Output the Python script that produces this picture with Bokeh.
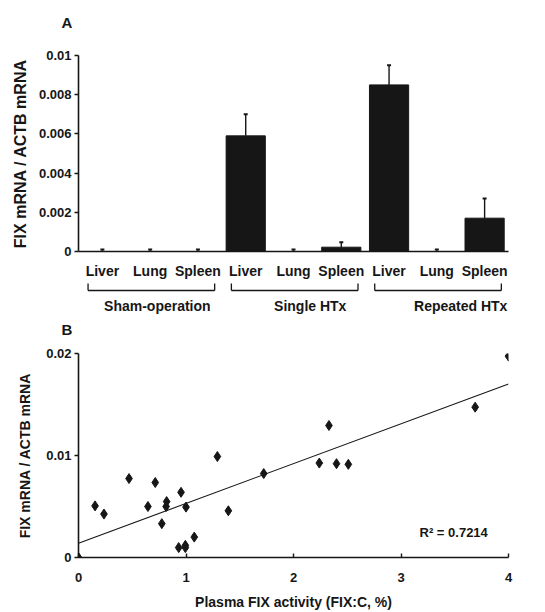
from bokeh.plotting import figure
from bokeh.models import FixedTicker, Range1d, Label
from bokeh.layouts import column
from bokeh.embed import file_html
from bokeh.resources import INLINE

FONT = "Liberation Sans"
INK = "#161616"

# ---------------- data: panel A ----------------
tissues = ["Liver", "Lung", "Spleen", "Liver", "Lung", "Spleen", "Liver", "Lung", "Spleen"]
groups = ["Sham-operation", "Single HTx", "Repeated HTx"]
mrna_mean = [0.0, 0.0, 0.0, 0.0059, 0.0, 0.00022, 0.0085, 0.0, 0.0017]
mrna_err = [0.0001, 0.0001, 0.0001, 0.0011, 0.0001, 0.00025, 0.001, 0.0001, 0.001]
y_ticks_a = [0, 0.002, 0.004, 0.006, 0.008, 0.01]
y_labels_a = ["0", "0.002", "0.004", "0.006", "0.008", "0.01"]

# ---------------- data: panel B ----------------
fix_activity = [0.0, 0.154, 0.237, 0.47, 0.646, 0.714, 0.775, 0.815, 0.82, 0.932, 0.954,
                0.994, 0.994, 1.0, 1.077, 1.292, 1.394, 1.723, 2.24, 2.33, 2.4, 2.51, 3.69, 4.0]
fix_mrna = [0.0, 0.00506, 0.00426, 0.00774, 0.0050, 0.00735, 0.00332, 0.0050, 0.00548, 0.00097,
            0.00639, 0.00119, 0.00097, 0.00494, 0.0020, 0.0099, 0.00458, 0.00823, 0.00926,
            0.01294, 0.0092, 0.00913, 0.01474, 0.01974]
trend_intercept = 0.0014
trend_slope = 0.0039
r_squared = "0.7214"
x_ticks_b = [0, 1, 2, 3, 4]
y_ticks_b = [0, 0.01, 0.02]
y_labels_b = ["0", "0.01", "0.02"]


def style_axis(ax, tick_size, tick_in, tick_out, standoff):
    ax.axis_line_color = INK
    ax.axis_line_width = 1.6
    ax.major_tick_line_color = INK
    ax.major_tick_line_width = 1.4
    ax.major_tick_in = tick_in
    ax.major_tick_out = tick_out
    ax.minor_tick_line_color = None
    ax.major_label_text_font = FONT
    ax.major_label_text_font_style = "bold"
    ax.major_label_text_font_size = tick_size
    ax.major_label_text_color = INK
    ax.major_label_standoff = standoff
    ax.axis_label_text_font = FONT
    ax.axis_label_text_font_style = "bold"
    ax.axis_label_text_color = INK


def clean(p):
    p.xgrid.visible = False
    p.ygrid.visible = False
    p.outline_line_color = None


def panel_letter(text, height, top):
    # a thin strip that only carries the panel letter as its title
    h = figure(width=545, height=height, output_backend="svg", toolbar_location=None,
               x_axis_type=None, y_axis_type=None,
               min_border_left=0, min_border_right=0, min_border_top=top, min_border_bottom=0)
    clean(h)
    h.title.text = text
    h.title.align = "left"
    h.title.offset = -17
    h.title.standoff = 0
    h.title.text_font = FONT
    h.title.text_font_style = "bold"
    h.title.text_font_size = "15px"
    h.title.text_color = INK
    return h


# ================= Panel A =================
head_a = panel_letter("A", 31, 30)

xpos = [i + 0.5 for i in range(len(tissues))]
xr_a = Range1d(0, 9)
p1 = figure(width=545, height=250, x_range=xr_a, y_range=Range1d(0, 0.01),
            output_backend="svg", toolbar_location=None,
            min_border_left=78, min_border_right=27, min_border_top=24, min_border_bottom=30)
clean(p1)

xa = p1.xaxis[0]
xa.ticker = FixedTicker(ticks=xpos)
xa.major_label_overrides = {x: t for x, t in zip(xpos, tissues)}
style_axis(xa, "14px", 0, 0, 11)

ya = p1.yaxis[0]
ya.ticker = FixedTicker(ticks=y_ticks_a)
ya.major_label_overrides = {v: t for v, t in zip(y_ticks_a, y_labels_a)}
style_axis(ya, "13px", 0, 4, 3)
ya.axis_label = "FIX mRNA / ACTB mRNA"
ya.axis_label_text_font_size = "16px"
ya.axis_label_standoff = 7

p1.vbar(x=xpos, top=mrna_mean, width=0.82, fill_color=INK, line_color=INK)
err_top = [m + e for m, e in zip(mrna_mean, mrna_err)]
p1.segment(x0=xpos, y0=mrna_mean, x1=xpos, y1=err_top, line_color=INK, line_width=1.4)
p1.scatter(x=xpos, y=err_top, marker="dash", size=4, line_color=INK, line_width=2)

# ---- group brackets + group names (strip sharing panel A's x range) ----
pg = figure(width=545, height=35, x_range=xr_a, y_range=Range1d(0, 1),
            output_backend="svg", toolbar_location=None, y_axis_type=None,
            min_border_left=78, min_border_right=27, min_border_top=0, min_border_bottom=24)
clean(pg)
group_centers = [1.65, 4.85, 8.0]
gx = pg.xaxis[0]
gx.ticker = FixedTicker(ticks=group_centers)
gx.major_label_overrides = {c: g for c, g in zip(group_centers, groups)}
style_axis(gx, "14px", 0, 0, 5)
gx.axis_line_color = None
gx.major_tick_line_color = None

br_start = [3 * g + 0.2 for g in range(len(groups))]
br_end = [3 * g + 2.85 for g in range(len(groups))]
br_low, br_high = 0.18, 0.82
pg.segment(x0=br_start, y0=[br_low] * 3, x1=br_end, y1=[br_low] * 3,
           line_color=INK, line_width=1.3)
pg.segment(x0=br_start, y0=[br_low] * 3, x1=br_start, y1=[br_high] * 3,
           line_color=INK, line_width=1.3)
pg.segment(x0=br_end, y0=[br_low] * 3, x1=br_end, y1=[br_high] * 3,
           line_color=INK, line_width=1.3)

# ================= Panel B =================
head_b = panel_letter("B", 22, 21)

p2 = figure(width=545, height=274, x_range=Range1d(0, 4), y_range=Range1d(0, 0.02),
            output_backend="svg", toolbar_location=None,
            min_border_left=75, min_border_right=37, min_border_top=15, min_border_bottom=55)
clean(p2)

xb = p2.xaxis[0]
xb.ticker = FixedTicker(ticks=x_ticks_b)
style_axis(xb, "13px", 4, 0, 15)
xb.axis_label = "Plasma FIX activity (FIX:C, %)"
xb.axis_label_text_font_size = "14px"
xb.axis_label_standoff = 9

yb = p2.yaxis[0]
yb.ticker = FixedTicker(ticks=y_ticks_b)
yb.major_label_overrides = {v: t for v, t in zip(y_ticks_b, y_labels_b)}
style_axis(yb, "13px", 0, 4, 3)
yb.axis_label = "FIX mRNA / ACTB mRNA"
yb.axis_label_text_font_size = "14px"
yb.axis_label_standoff = 10

trend_x = [min(x_ticks_b), max(x_ticks_b)]
trend_y = [trend_intercept + trend_slope * x for x in trend_x]
p2.line(x=trend_x, y=trend_y, line_color=INK, line_width=1.1)
p2.scatter(x=fix_activity, y=fix_mrna, marker="diamond", size=10,
           fill_color=INK, line_color=INK)

p2.add_layout(Label(x=3.49, y=0.0025, text="R\u00b2 = " + r_squared, text_font=FONT,
                    text_font_style="bold", text_font_size="13px", text_align="center",
                    text_baseline="middle", text_color=INK))

layout = column(head_a, p1, pg, head_b, p2, spacing=0)
open("out.html", "w").write(file_html(layout, INLINE))
